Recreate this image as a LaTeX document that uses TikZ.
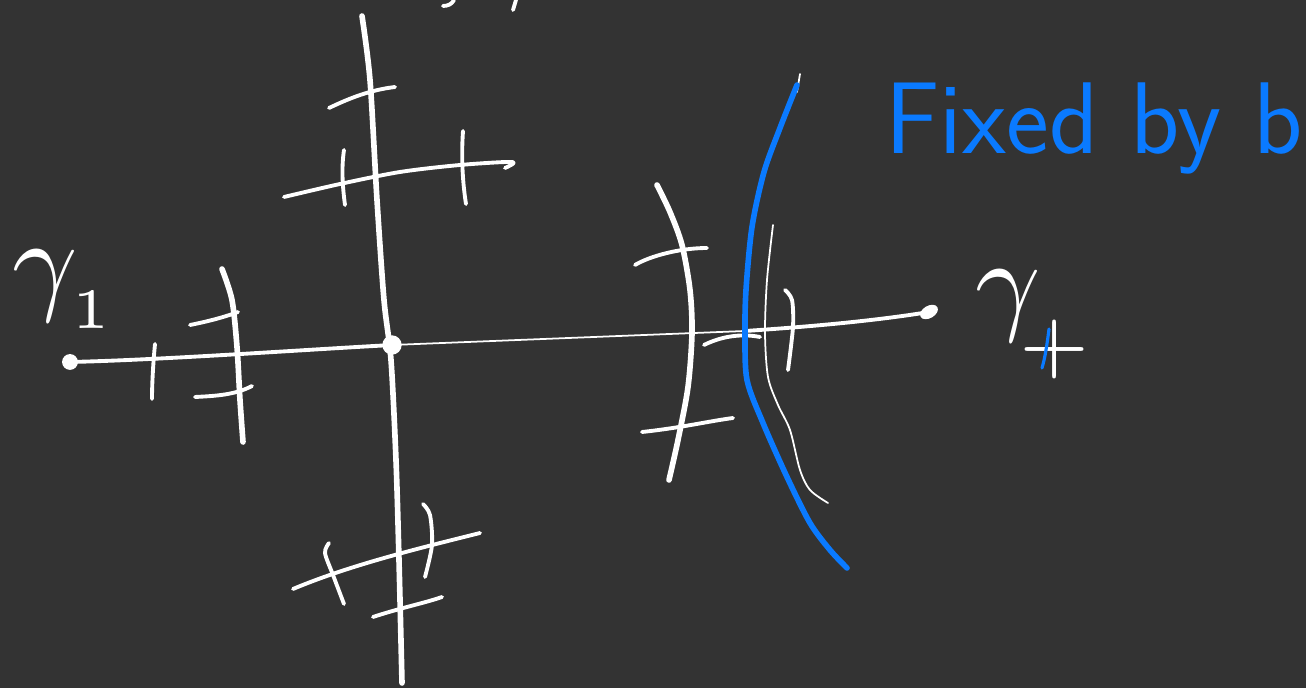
\documentclass[tikz,border=0pt]{standalone}
\usepackage{fontspec}
\usetikzlibrary{shapes.geometric}
\definecolor{bg}{RGB}{51,51,51}
\definecolor{penblue}{RGB}{10,122,255}
\begin{document}
\begin{tikzpicture}[x=0.02cm,y=-0.02cm,
  line cap=round, line join=round,
  thick stroke/.style={white, line width=3.2pt},
  mid stroke/.style={white, line width=2.2pt},
  thin stroke/.style={white, line width=1.0pt},
  blue stroke/.style={penblue, line width=3.2pt},
  dot/.style={circle, fill=white, inner sep=0pt, minimum size=#1},
  label/.style={white, inner sep=0pt, anchor=base west}]
\fill[bg] (0,0) rectangle (1306,688);
\useasboundingbox (0,0) rectangle (1306,688);

% key points
\node[dot=9pt] (left) at (70,362) {};
\node[dot=11pt] (centre) at (392,345) {};
\node[ellipse, fill=white, inner sep=0pt, minimum width=11pt, minimum height=7pt, rotate=30] (right) at (929,312) {};
\coordinate (cross) at (745,331);

% main vertical line
\draw[thick stroke] plot[smooth] coordinates {(362,16) (370,80) (377,200) (384,300) (391,360) (396,460) (399,560) (402,683)};

% horizontal line
\draw[mid stroke] (left.center) .. controls (160,360) and (300,350) .. (centre.center);
\draw[thin stroke] (centre.center) -- (cross);
\draw[mid stroke] (cross) .. controls (820,326) and (880,320) .. (right.center);

% upper marks
\draw[mid stroke] (329,108) .. controls (350,98) and (370,90) .. (395,87);
\draw[mid stroke] plot[smooth] coordinates {(284,197) (340,184) (400,172) (460,165) (512,162) (505,168)};
\draw[mid stroke] (344,150) .. controls (341,170) and (343,190) .. (345,205);
\draw[mid stroke] (463,131) .. controls (461,160) and (463,185) .. (466,204);

% left marks
\draw[mid stroke] (155,344) .. controls (153,365) and (152,385) .. (152,399);
\draw[thick stroke] plot[smooth] coordinates {(222,269) (232,300) (237,347) (240,400) (243,442)};
\draw[mid stroke] (190,325) .. controls (205,322) and (222,318) .. (238,312);
\draw[mid stroke] (195,397) .. controls (215,396) and (235,395) .. (252,386);

% bottom marks
\draw[mid stroke] (293,589) .. controls (350,565) and (420,548) .. (480,533);
\draw[mid stroke] plot[smooth] coordinates {(329,543) (325,553) (333,575) (344,604)};
\draw[mid stroke] plot[smooth] coordinates {(423,504) (430,515) (432,545) (425,577)};
\draw[mid stroke] (373,617) .. controls (400,608) and (425,603) .. (442,597);

% right marks
\draw[thick stroke] plot[smooth] coordinates {(657,185) (670,212) (682,245) (690,290) (692,333) (688,387) (678,440) (669,480)};
\draw[mid stroke] (635,265) .. controls (650,256) and (680,248) .. (707,248);
\draw[mid stroke] (642,432) .. controls (680,428) and (710,421) .. (733,418);
\draw[mid stroke] (704,345) .. controls (720,337) and (740,333) .. (760,337);
\draw[mid stroke] plot[smooth] coordinates {(785,290) (792,300) (793,327) (788,370)};
\draw[thin stroke] plot[smooth] coordinates {(773,225) (767,280) (765,333) (768,377) (778,405) (790,430) (800,470) (810,490) (828,503)};
\draw[thin stroke] (800,74) -- (797,92);

% blue curve
\draw[blue stroke] plot[smooth] coordinates {(797,85) (780,128) (764,172) (752,227) (746,290) (745,333) (747,380) (763,423) (787,477) (810,523) (830,550) (847,568)};

% cut-off strokes at the top
\draw[mid stroke] (454,0) .. controls (452,4) and (448,6) .. (443,6);
\draw[mid stroke] (516,0) -- (513,10);

% labels
\node[label] (g1) at (12,300) {\scalebox{6.5}{$\gamma_{\lower1pt\hbox{$\scriptscriptstyle 1$}}$}};
\node[label] (gp) at (975,320) {\scalebox{6.5}{$\gamma_{\kern-1.3pt\lower2.8pt\hbox{$\scriptstyle +$}}$}};
\draw[penblue, line width=1.8pt] (1049,329) .. controls (1047,345) and (1045,358) .. (1042,368);
\node[penblue, inner sep=0pt, font=\fontsize{58}{64}\selectfont\sffamily, anchor=base west] (fixed) at (885,154) {Fixed by b};
\end{tikzpicture}
\end{document}
